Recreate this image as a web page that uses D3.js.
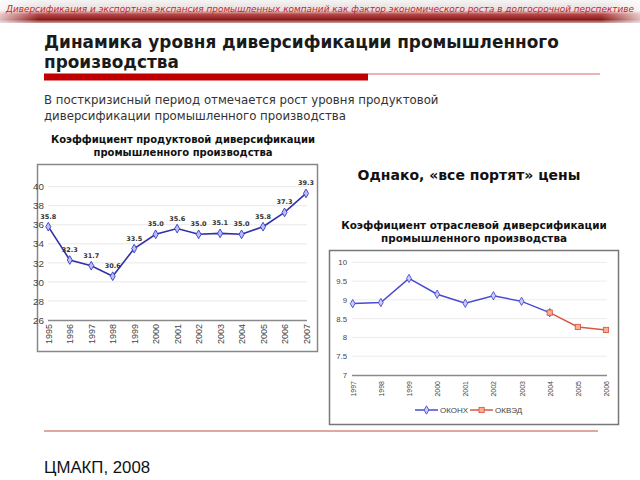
<!DOCTYPE html>
<html><head><meta charset="utf-8">
<script src="https://cdn.jsdelivr.net/npm/d3@7/dist/d3.min.js"></script>
<style>body{margin:0;background:#fff}svg{display:block}</style>
</head><body>
<script>
// ---- data ----
const headerText = "Диверсификация и экспортная экспансия промышленных компаний как фактор экономического роста в долгосрочной перспективе";
const titleLines = ["Динамика уровня диверсификации промышленного", "производства"];
const subtitleLines = ["В посткризисный период отмечается рост уровня продуктовой", "диверсификации промышленного производства"];
const leftTitle = ["Коэффициент продуктовой диверсификации", "промышленного производства"];
const rightTitle = ["Коэффициент отраслевой диверсификации", "промышленного производства"];
const noteText = "Однако, «все портят» цены";
const footerText = "ЦМАКП, 2008";

const prodYears = ["1995","1996","1997","1998","1999","2000","2001","2002","2003","2004","2005","2006","2007"];
const prodValues = [35.8, 32.3, 31.7, 30.6, 33.5, 35.0, 35.6, 35.0, 35.1, 35.0, 35.8, 37.3, 39.3];
const prodTicks = [26, 28, 30, 32, 34, 36, 38, 40];

const indYears = ["1997","1998","1999","2000","2001","2002","2003","2004","2005","2006"];
const okonhYears = ["1997","1998","1999","2000","2001","2002","2003","2004"];
const okonhValues = [8.9, 8.93, 9.57, 9.15, 8.91, 9.11, 8.96, 8.66];
const okvedYears = ["2004","2005","2006"];
const okvedValues = [8.66, 8.28, 8.2];
const indTicks = [7, 7.5, 8, 8.5, 9, 9.5, 10];
const legendNames = ["ОКОНХ", "ОКВЭД"];

const W = 640, H = 480;
const svg = d3.select("body").append("svg").attr("width", W).attr("height", H);
const defs = svg.append("defs");

// header gradient
const g1 = defs.append("linearGradient").attr("id","hdr").attr("x1",0).attr("y1",0).attr("x2",0).attr("y2",1);
g1.append("stop").attr("offset","0%").attr("stop-color","#f4f4f4");
g1.append("stop").attr("offset","45%").attr("stop-color","#e9dcdc");
g1.append("stop").attr("offset","62%").attr("stop-color","#b84848");
g1.append("stop").attr("offset","85%").attr("stop-color","#8a1c1c");
g1.append("stop").attr("offset","100%").attr("stop-color","#c9a0a0");
const g2 = defs.append("linearGradient").attr("id","hdrL").attr("x1",0).attr("y1",0).attr("x2",1).attr("y2",0);
g2.append("stop").attr("offset","0%").attr("stop-color","#fff").attr("stop-opacity",0.7);
g2.append("stop").attr("offset","6%").attr("stop-color","#fff").attr("stop-opacity",0);
g2.append("stop").attr("offset","94%").attr("stop-color","#fff").attr("stop-opacity",0);
g2.append("stop").attr("offset","100%").attr("stop-color","#fff").attr("stop-opacity",0.7);
svg.append("rect").attr("x",0).attr("y",0).attr("width",W).attr("height",23).attr("fill","url(#hdr)");
svg.append("rect").attr("x",0).attr("y",0).attr("width",W).attr("height",23).attr("fill","url(#hdrL)");
svg.append("text").attr("x",320).attr("y",12).attr("text-anchor","middle")
  .attr("font-family","DejaVu Sans").attr("font-style","italic").attr("font-size",8.3)
  .attr("fill","#c0282a").attr("textLength",628).attr("lengthAdjust","spacingAndGlyphs").text(headerText);

// title
svg.append("g").selectAll("text").data(titleLines).join("text")
  .attr("x",44).attr("y",(d,i)=>48+i*19.5)
  .attr("font-family","DejaVu Sans").attr("font-weight","bold").attr("font-size",16.9)
  .attr("fill","#1a1a1a").text(d=>d);
svg.append("rect").attr("x",44).attr("y",73.5).attr("width",324).attr("height",7).attr("fill","#c00000");
svg.append("line").attr("x1",368).attr("x2",600).attr("y1",74).attr("y2",74).attr("stroke","#d26a6a").attr("stroke-width",1);

// subtitle
svg.append("g").selectAll("text").data(subtitleLines).join("text")
  .attr("x",44).attr("y",(d,i)=>104+i*16)
  .attr("font-family","DejaVu Sans").attr("font-size",11.75)
  .attr("fill","#333").text(d=>d);

// left chart title
svg.append("g").selectAll("text").data(leftTitle).join("text")
  .attr("x",183).attr("y",(d,i)=>143+i*12.5).attr("text-anchor","middle")
  .attr("font-family","DejaVu Sans").attr("font-weight","bold").attr("font-size",10)
  .attr("fill","#111").text(d=>d);

// note
svg.append("text").attr("x",469).attr("y",180).attr("text-anchor","middle")
  .attr("font-family","DejaVu Sans").attr("font-weight","bold").attr("font-size",14)
  .attr("fill","#111").text(noteText);

// right chart title
svg.append("g").selectAll("text").data(rightTitle).join("text")
  .attr("x",474).attr("y",(d,i)=>229+i*13).attr("text-anchor","middle")
  .attr("font-family","DejaVu Sans").attr("font-weight","bold").attr("font-size",10.4)
  .attr("fill","#111").text(d=>d);

// bottom line + footer
svg.append("line").attr("x1",44).attr("x2",598).attr("y1",431).attr("y2",431).attr("stroke","#dca8a0").attr("stroke-width",2);
svg.append("text").attr("x",44).attr("y",473)
  .attr("font-family","Liberation Sans").attr("font-size",16.8).attr("fill","#111").text(footerText);

// ---------- left chart ----------
svg.append("rect").attr("x",37.5).attr("y",164.5).attr("width",280).attr("height",187)
  .attr("fill","#fff").attr("stroke","#888").attr("stroke-width",1.5);
const xL = d3.scalePoint().domain(prodYears).range([48.3, 306]);
const yL = d3.scaleLinear().domain([26, 40]).range([320, 186.7]);
const gL = svg.append("g");
gL.append("g").selectAll("line").data(prodTicks.slice(1)).join("line")
  .attr("x1",48).attr("x2",307).attr("y1",d=>yL(d)).attr("y2",d=>yL(d)).attr("stroke","#e8e8e8");
const axYL = gL.append("g").attr("transform","translate(44,0)")
  .call(d3.axisLeft(yL).tickValues(prodTicks).tickSize(0).tickPadding(0));
axYL.select(".domain").remove();
axYL.selectAll("text").attr("font-family","Liberation Sans").attr("font-size",9.8).attr("fill","#444");
const axXL = gL.append("g").attr("transform","translate(0,320)")
  .call(d3.axisBottom(xL).tickSize(0).tickPadding(0));
axXL.select(".domain").attr("stroke","#8a8a8a").attr("stroke-width",1.3).attr("d","M48,0.5H307");
axXL.selectAll("text").attr("font-family","Liberation Sans").attr("font-size",9).attr("fill","#444")
  .attr("transform","rotate(-90)").attr("text-anchor","end").attr("dy","0.35em").attr("x",-4).attr("y",0);
gL.append("path").datum(prodValues)
  .attr("d", d3.line().x((d,i)=>xL(prodYears[i])).y(d=>yL(d)))
  .attr("fill","none").attr("stroke","#3030a8").attr("stroke-width",1.6);
gL.append("g").selectAll("path").data(prodValues).join("path")
  .attr("transform",(d,i)=>`translate(${xL(prodYears[i])},${yL(d)})`)
  .attr("d", d3.symbol(d3.symbolDiamond, 22)())
  .attr("fill","#b8c0ff").attr("stroke","#3a3ac0").attr("stroke-width",0.9);
gL.append("g").selectAll("text").data(prodValues).join("text")
  .attr("x",(d,i)=>xL(prodYears[i])).attr("y",d=>yL(d)-8).attr("text-anchor","middle")
  .attr("font-family","DejaVu Sans").attr("font-weight","bold").attr("font-size",6.5).attr("fill","#333")
  .text(d=>d.toFixed(1));

// ---------- right chart ----------
svg.append("rect").attr("x",329.5).attr("y",250.5).attr("width",289).attr("height",174)
  .attr("fill","#fff").attr("stroke","#777").attr("stroke-width",1.5);
const xR = d3.scalePoint().domain(indYears).range([352.7, 606]);
const yR = d3.scaleLinear().domain([7, 10]).range([375, 262.3]);
const gR = svg.append("g");
gR.append("g").selectAll("line").data(indTicks.slice(1)).join("line")
  .attr("x1",352).attr("x2",607).attr("y1",d=>yR(d)).attr("y2",d=>yR(d)).attr("stroke","#ebebeb");
const axYR = gR.append("g").attr("transform","translate(347,0)")
  .call(d3.axisLeft(yR).tickValues(indTicks).tickFormat(d3.format("~g")).tickSize(0).tickPadding(0));
axYR.select(".domain").remove();
axYR.selectAll("text").attr("font-family","Liberation Sans").attr("font-size",7.8).attr("fill","#444");
const axXR = gR.append("g").attr("transform","translate(0,375)")
  .call(d3.axisBottom(xR).tickSize(0).tickPadding(0));
axXR.select(".domain").attr("stroke","#8a8a8a").attr("stroke-width",1.3).attr("d","M352,0.5H607");
axXR.selectAll("text").attr("font-family","Liberation Sans").attr("font-size",7).attr("fill","#444")
  .attr("transform","rotate(-90)").attr("text-anchor","end").attr("dy","0.35em").attr("x",-6).attr("y",0);
gR.append("path").datum(okonhValues)
  .attr("d", d3.line().x((d,i)=>xR(okonhYears[i])).y(d=>yR(d)))
  .attr("fill","none").attr("stroke","#4a4ad0").attr("stroke-width",1.5);
gR.append("path").datum(okvedValues)
  .attr("d", d3.line().x((d,i)=>xR(okvedYears[i])).y(d=>yR(d)))
  .attr("fill","none").attr("stroke","#d65a48").attr("stroke-width",1.5);
gR.append("g").selectAll("path").data(okonhValues).join("path")
  .attr("transform",(d,i)=>`translate(${xR(okonhYears[i])},${yR(d)})`)
  .attr("d", d3.symbol(d3.symbolDiamond, 20)())
  .attr("fill","#c8ccff").attr("stroke","#4a4ad0").attr("stroke-width",0.9);
gR.append("g").selectAll("rect").data(okvedValues).join("rect")
  .attr("x",(d,i)=>xR(okvedYears[i])-2.6).attr("y",d=>yR(d)-2.6).attr("width",5.2).attr("height",5.2)
  .attr("fill","#f8b090").attr("stroke","#d65a48").attr("stroke-width",0.9);

// legend
const lg = svg.append("g").attr("transform","translate(415,410)");
const legendColors = ["#4a4ad0","#d65a48"];
const lItems = lg.selectAll("g").data(legendNames).join("g").attr("transform",(d,i)=>`translate(${i*55},0)`);
lItems.append("line").attr("x1",0).attr("x2",23).attr("stroke",(d,i)=>legendColors[i]).attr("stroke-width",1.5);
lItems.each(function(d,i){
  const s = d3.select(this);
  if(i===0) s.append("path").attr("transform","translate(11.5,0)").attr("d",d3.symbol(d3.symbolDiamond,20)())
    .attr("fill","#c8ccff").attr("stroke","#4a4ad0").attr("stroke-width",0.9);
  else s.append("rect").attr("x",9).attr("y",-2.6).attr("width",5.2).attr("height",5.2)
    .attr("fill","#f8b090").attr("stroke","#d65a48").attr("stroke-width",0.9);
});
lItems.append("text").attr("x",25).attr("dy","0.35em").attr("font-family","Liberation Sans")
  .attr("font-size",8).attr("fill","#444").text(d=>d);
</script>
</body></html>
